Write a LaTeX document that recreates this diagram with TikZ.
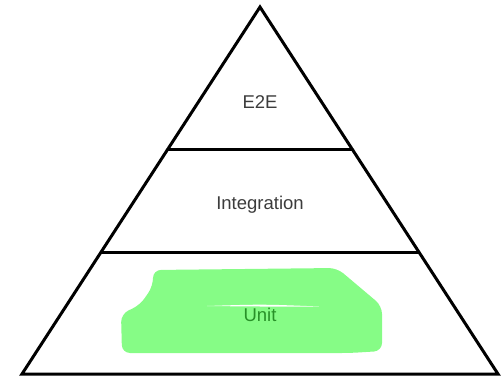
\documentclass[tikz,border=0pt]{standalone}
\usepackage{fontspec}
\setmainfont{Liberation Sans}
\usetikzlibrary{calc}
\definecolor{marker}{RGB}{134,252,134}
\definecolor{labelgray}{RGB}{60,60,60}
\definecolor{unitgreen}{RGB}{40,145,40}

\begin{document}
\begin{tikzpicture}[
    x=1pt, y=-1pt,
    edge/.style={line width=3pt, line cap=round},
    tier/.style={font=\fontsize{18.5}{22}\selectfont, text=labelgray, anchor=base},
]
    \useasboundingbox (0,0) rectangle (504,377);

    % --- corners of the pyramid ---
    \coordinate (apex) at (260,7);
    \coordinate (baseL) at (22,374);
    \coordinate (baseR) at (498,374);

    % --- highlighter scribble over the bottom tier ---
    \fill[marker, rounded corners=8pt] (153,270) -- (337,268) -- (382,306) -- (382,351)
        -- (350,353) -- (122,353) -- (121,314) -- (140,305) -- (153,286) -- cycle;
    \fill[white] (207,306) .. controls (262,304.2) .. (319,306.5) .. controls (262,306.6) .. (207,306) -- cycle;

    % --- outline and tier borders ---
    \draw[edge] (apex) -- (baseL) -- (baseR) -- cycle;
    \coordinate (upL) at ($(apex)!0.3896!(baseL)$);
    \coordinate (upR) at ($(apex)!0.3896!(baseR)$);
    \coordinate (lowL) at ($(apex)!0.6676!(baseL)$);
    \coordinate (lowR) at ($(apex)!0.6676!(baseR)$);
    \draw[edge] (upL) -- (upR);
    \draw[edge] (lowL) -- (lowR);

    % --- tier labels ---
    \node[tier] (e2e) at (260,109) {E2E};
    \node[tier] (integration) at (260,210) {Integration};
    \node[tier, text=unitgreen] (unit) at (260,321) {Unit};
\end{tikzpicture}
\end{document}
